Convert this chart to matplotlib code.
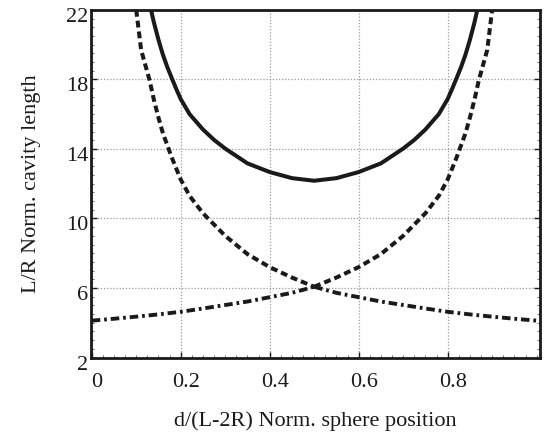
import matplotlib
matplotlib.use("Agg")
import matplotlib.pyplot as plt
from matplotlib.ticker import MultipleLocator
from matplotlib.transforms import ScaledTranslation

plt.rcParams["font.family"] = ["Liberation Serif", "DejaVu Serif"]

# Normalized sphere position d/(L-2R)
# Descending branch (stability limit set by the first mirror)
x_desc = [0.100, 0.111, 0.130, 0.140, 0.150, 0.160, 0.180, 0.200, 0.220, 0.250,
          0.300, 0.350, 0.400, 0.450, 0.500, 0.550, 0.600, 0.650, 0.700, 0.750,
          0.800, 0.850, 0.900, 0.950, 1.000]
y_desc = [22.0, 19.7, 17.95, 16.8, 15.8, 14.9, 13.5, 12.24, 11.3, 10.3,
          9.0, 7.95, 7.2, 6.6, 6.07, 5.72, 5.47, 5.22, 5.02, 4.82,
          4.63, 4.48, 4.35, 4.23, 4.12]

# Ascending branch (stability limit set by the second mirror)
x_asc = [0.000, 0.050, 0.100, 0.150, 0.200, 0.250, 0.300, 0.350, 0.400, 0.450,
         0.500, 0.550, 0.600, 0.650, 0.700, 0.750, 0.780, 0.800, 0.820, 0.840,
         0.850, 0.860, 0.870, 0.889, 0.900]
y_asc = [4.12, 4.23, 4.35, 4.48, 4.63, 4.82, 5.02, 5.22, 5.47, 5.72,
         6.07, 6.6, 7.2, 7.95, 9.0, 10.3, 11.3, 12.24, 13.5, 14.9,
         15.8, 16.8, 17.95, 19.7, 22.0]

# Total normalized cavity length
x_total = [0.130, 0.140, 0.150, 0.160, 0.170, 0.180, 0.190, 0.200, 0.220, 0.250,
           0.275, 0.300, 0.350, 0.400, 0.450, 0.500, 0.550, 0.600, 0.650, 0.700,
           0.725, 0.750, 0.780, 0.800, 0.810, 0.820, 0.830, 0.840, 0.850, 0.860,
           0.870]
y_total = [22.37, 21.25, 20.28, 19.42, 18.70, 18.07, 17.45, 16.87, 16.0, 15.12,
           14.52, 14.02, 13.17, 12.67, 12.32, 12.17, 12.32, 12.67, 13.17, 14.02,
           14.52, 15.12, 16.0, 16.87, 17.45, 18.07, 18.70, 19.42, 20.28, 21.25,
           22.37]

x_ticks = [0, 0.2, 0.4, 0.6, 0.8]
x_tick_labels = ["0", "0.2", "0.4", "0.6", "0.8"]
y_ticks = [2, 6, 10, 14, 18, 22]

fig = plt.figure(figsize=(5.44, 4.40), dpi=100)
ax = fig.add_axes([0.167, 0.1875, 0.826, 0.790])

ax.grid(True, color="#9a9a9a", linestyle=(0, (1, 1.5)), linewidth=0.9)
ax.set_axisbelow(True)

ink = "#1a1a1a"
ax.plot(x_total, y_total, color=ink, linewidth=2.9, solid_capstyle="round")

# each branch: short dashes above the crossing point, dash-dot below it
n_desc_hi = sum(1 for x in x_desc if x <= 0.5)
n_asc_lo = sum(1 for x in x_asc if x <= 0.5)

upper_style = dict(color=ink, linewidth=2.9, linestyle=(0, (1.7, 1.0)))
lower_style = dict(color=ink, linewidth=2.8, linestyle=(0, (2.2, 1.0, 0.7, 1.0)))
ax.plot(x_desc[:n_desc_hi], y_desc[:n_desc_hi], **upper_style)
ax.plot(x_asc[n_asc_lo - 1:], y_asc[n_asc_lo - 1:], **upper_style)
ax.plot(x_desc[n_desc_hi - 1:], y_desc[n_desc_hi - 1:], **lower_style)
ax.plot(x_asc[:n_asc_lo], y_asc[:n_asc_lo], **lower_style)

ax.set_xlim(-0.002, 1.008)
ax.set_ylim(2, 22)
ax.set_xticks(x_ticks)
ax.set_xticklabels(x_tick_labels)
ax.set_yticks(y_ticks)
ax.yaxis.set_minor_locator(MultipleLocator(0.5))
ax.xaxis.set_minor_locator(MultipleLocator(0.025))

for side in ("left", "bottom", "top", "right"):
    ax.spines[side].set_linewidth(2.0)
    ax.spines[side].set_color(ink)

ax.tick_params(axis="both", which="major", direction="in", length=4, width=1,
               labelsize=16, colors=ink)
ax.tick_params(axis="x", which="major", pad=11)
ax.tick_params(axis="y", which="major", pad=2)
ax.tick_params(axis="both", which="minor", direction="in", length=2, width=0.6,
               colors="#555555")
ax.tick_params(axis="y", which="both", right=True)
ax.tick_params(axis="x", which="both", top=False)

# tick labels sit slightly right (x) and slightly low (y) of their ticks
shift_x = ScaledTranslation(5 / 100, 0, fig.dpi_scale_trans)
for lbl in ax.get_xticklabels():
    lbl.set_transform(lbl.get_transform() + shift_x)
shift_y = ScaledTranslation(0, -5 / 100, fig.dpi_scale_trans)
for lbl in ax.get_yticklabels():
    lbl.set_transform(lbl.get_transform() + shift_y)

ax.set_xlabel("d/(L-2R) Norm. sphere position", fontsize=16, labelpad=14, color=ink)
ax.set_ylabel("L/R Norm. cavity length", fontsize=16, labelpad=18, color=ink)

fig.savefig("out.png", dpi=100)
